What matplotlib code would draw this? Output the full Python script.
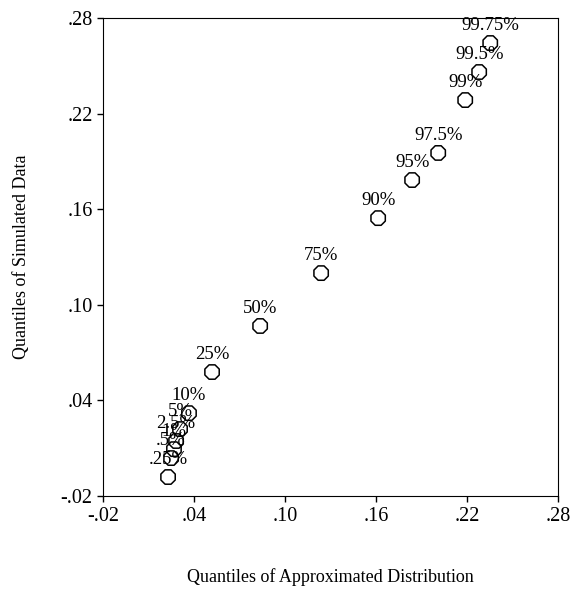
import numpy as np
import matplotlib.pyplot as plt
from matplotlib.ticker import FuncFormatter

# Quantile labels and values
labels = ['.25%', '.5%', '1%', '2.5%', '5%', '10%', '25%', '50%', '75%',
          '90%', '95%', '97.5%', '99%', '99.5%', '99.75%']
approx_q = [0.0229, 0.0249, 0.0268, 0.0282, 0.0308, 0.0367, 0.0519, 0.0836,
            0.1238, 0.1614, 0.1838, 0.2010, 0.2188, 0.2280, 0.2353]
simul_q = [-0.0081, 0.0038, 0.0094, 0.0145, 0.0220, 0.0320, 0.0578, 0.0867,
           0.1199, 0.1544, 0.1783, 0.1953, 0.2285, 0.2461, 0.2643]
ticks = [-0.02, 0.04, 0.10, 0.16, 0.22, 0.28]

plt.rcParams['font.family'] = ['Liberation Serif', 'DejaVu Serif']


def fmt(v, pos):
    s = '%.2f' % v
    return s.replace('0.', '.')


fig = plt.figure(figsize=(5.76, 5.96), dpi=100)
ax = fig.add_axes([0.1788, 0.1678, 0.790, 0.802])

ax.scatter(approx_q, simul_q, marker='8', s=125, facecolors='none',
           edgecolors='black', linewidths=1.1, zorder=3)

for lab, x, y in zip(labels, approx_q, simul_q):
    ax.annotate(lab, (x, y), xytext=(0, 12.5), textcoords='offset points',
                ha='center', va='center', fontsize=13.5)

ax.set_xlim(-0.02, 0.28)
ax.set_ylim(-0.02, 0.28)
ax.set_xticks(ticks)
ax.set_yticks(ticks)
ax.xaxis.set_major_formatter(FuncFormatter(fmt))
ax.yaxis.set_major_formatter(FuncFormatter(fmt))
ax.tick_params(direction='out', length=4.5, width=1, labelsize=14.5)
ax.tick_params(axis='x', pad=3.5)
ax.tick_params(axis='y', pad=3)

ax.set_xlabel('Quantiles of Approximated Distribution', fontsize=13,
              va='center')
ax.set_ylabel('Quantiles of Simulated Data', fontsize=13, va='center')
ax.xaxis.set_label_coords(0.5, -0.169)
ax.yaxis.set_label_coords(-0.178, 0.5)

fig.savefig('out.png', dpi=100)
